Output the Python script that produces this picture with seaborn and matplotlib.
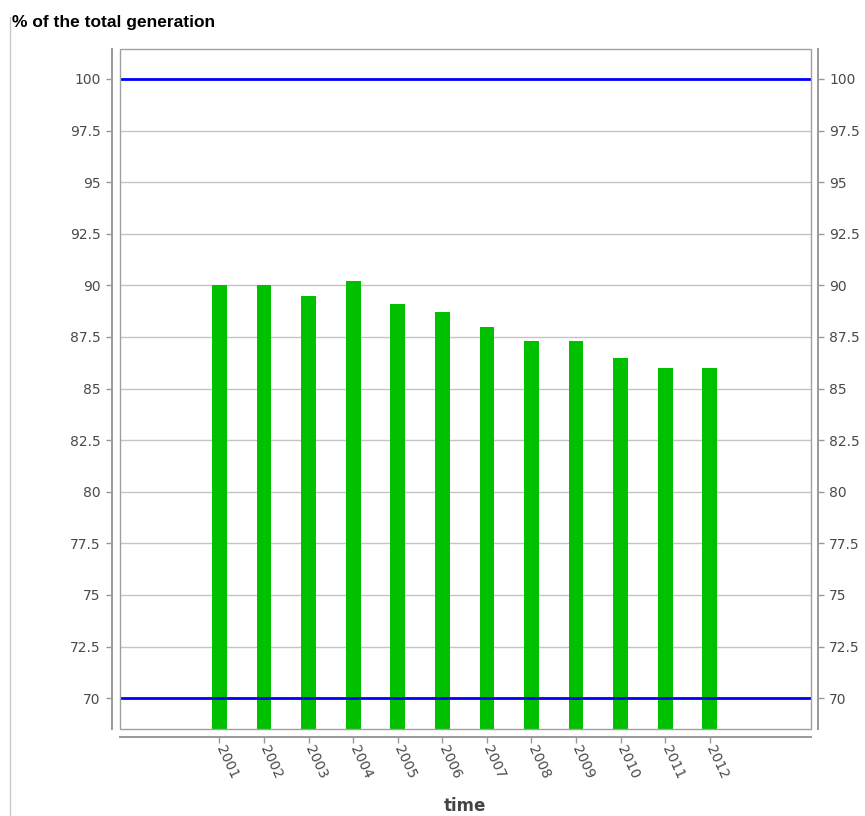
import numpy as np
import pandas as pd
import matplotlib.pyplot as plt
import seaborn as sns
from matplotlib.lines import Line2D
from matplotlib.patches import Rectangle

# dati
years = ['2001', '2002', '2003', '2004', '2005', '2006',
         '2007', '2008', '2009', '2010', '2011', '2012']
share = [90.0, 90.0, 89.5, 90.2, 89.1, 88.7, 88.0, 87.3, 87.3, 86.5, 86.0, 86.0]
ref_lines = [100, 70]
y_ticks = [70, 72.5, 75, 77.5, 80, 82.5, 85, 87.5, 90, 92.5, 95, 97.5, 100]
y_labels = ['70', '72.5', '75', '77.5', '80', '82.5', '85', '87.5', '90',
            '92.5', '95', '97.5', '100']

sns.set_theme(style='white')
plt.rcParams['font.family'] = ['DejaVu Sans']

df = pd.DataFrame({'time': years, 'share': share})

fig = plt.figure(figsize=(8.65, 8.16), dpi=100)
ax = fig.add_axes([120 / 865, 1 - 728.5 / 816, 691 / 865, 679.5 / 816])

sns.barplot(data=df, x='time', y='share', color='#00c000', saturation=1,
            width=0.33, linewidth=0, ax=ax, zorder=2)

for v in ref_lines:
    ax.axhline(v, color='#0000ff', lw=2, zorder=3)

ylim = (68.53, 101.45)
ax.set_ylim(ylim)
ax.set_xlim(-2.23, 13.27)
ax.set_yticks(y_ticks, y_labels)
ax.yaxis.grid(True, color='#c4c4c4', lw=1)
ax.set_axisbelow(True)
ax.set_xlabel('')
ax.set_ylabel('')

# assi staccati dal riquadro, come nell'originale
for s in ['top', 'right']:
    ax.spines[s].set_visible(False)
for s in ['left', 'bottom']:
    ax.spines[s].set_position(('outward', 6))
    ax.spines[s].set_color('#999999')
    ax.spines[s].set_linewidth(1.4)

ax.tick_params(axis='y', length=4, width=1, color='#999999', labelcolor='#4a4a4a',
               labelsize=10, pad=4, left=True)
ax.tick_params(axis='x', length=4, width=1, color='#999999', labelcolor='#4a4a4a',
               labelsize=10, pad=3, bottom=True)
for lab in ax.get_xticklabels():
    lab.set_rotation(-65)
    lab.set_ha('left')
    lab.set_va('center')
    lab.set_rotation_mode('anchor')

# asse destro
ax2 = ax.twinx()
ax2.set_ylim(ylim)
ax2.set_yticks(y_ticks, y_labels)
for s in ['top', 'left', 'bottom']:
    ax2.spines[s].set_visible(False)
ax2.spines['right'].set_position(('outward', 5))
ax2.spines['right'].set_color('#999999')
ax2.spines['right'].set_linewidth(1.4)
ax2.tick_params(axis='y', length=4, width=1, color='#999999', labelcolor='#4a4a4a',
                labelsize=10, pad=4, right=True)

# riquadro
ax.add_patch(Rectangle((0, 0), 1, 1, transform=ax.transAxes, fill=False,
                       edgecolor='#a0a0a0', lw=1, clip_on=False, zorder=5))

fig.add_artist(Line2D([10 / 865, 10 / 865], [0, 1 - 17 / 816], color='#c8c8c8', lw=1))

fig.text(12 / 865, 1 - 23 / 816, '% of the total generation', fontsize=12.5,
         fontweight='bold', family=['Liberation Sans Narrow', 'Liberation Sans'],
         va='center', ha='left', color='black')
fig.text(465 / 865, 1 - 806 / 816, 'time', fontsize=12, fontweight='bold',
         color='#444444', ha='center', va='center')

fig.savefig('out.png', dpi=100)
